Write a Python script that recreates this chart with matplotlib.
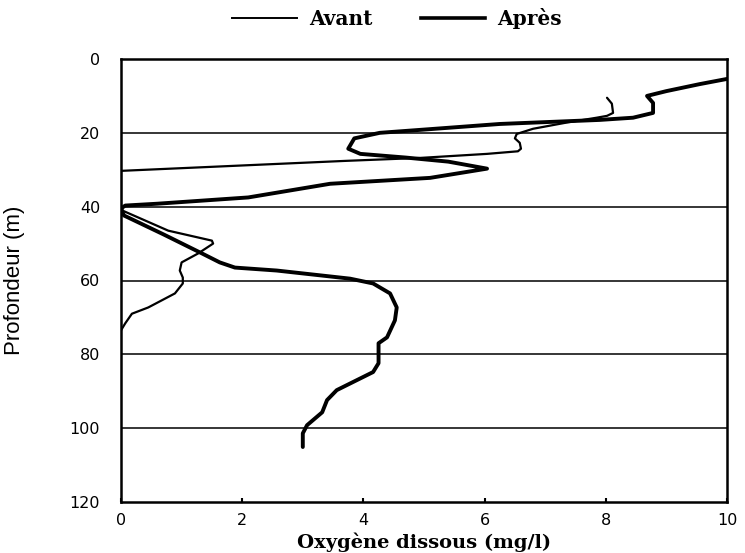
import matplotlib
matplotlib.use("Agg")
import matplotlib.pyplot as plt
from matplotlib.lines import Line2D

# Dissolved-oxygen profiles (mg/l) against depth (m)
avant_oxy = [8.02, 8.10, 8.12, 8.02, 7.85, 7.36, 6.80, 6.53, 6.50, 6.58, 6.60, 6.55,
             6.04, 4.93, 3.70, 0.00, 0.00, 0.03, 0.78, 1.50, 1.52, 1.27, 1.00,
             0.97, 1.02, 1.02, 0.89, 0.45, 0.18, 0.07, 0.00]
avant_depth = [10.5, 12.1, 14.6, 15.4, 15.9, 17.2, 18.9, 20.3, 21.5, 22.7, 24.3, 25.0,
               25.7, 26.8, 27.6, 30.3, 40.0, 41.1, 46.5, 49.2, 50.0, 52.7, 55.1,
               57.3, 59.2, 60.8, 63.5, 67.3, 69.0, 71.6, 73.5]

apres_oxy = [10.0, 9.55, 9.00, 8.68, 8.78, 8.78, 8.45, 7.90, 6.25, 5.10, 4.27, 3.85,
             3.75, 3.95, 4.70, 5.40, 6.04, 5.10, 3.45, 2.10, 0.60, 0.07, 0.00, 0.05,
             0.70, 1.34, 1.63, 1.88, 2.57, 3.78, 4.16, 4.44, 4.55, 4.52, 4.39, 4.25,
             4.25, 4.16, 3.56, 3.40, 3.32, 3.07, 3.00, 3.00]
apres_depth = [5.4, 6.8, 8.7, 10.0, 11.9, 14.6, 15.9, 16.5, 17.6, 19.0, 20.0, 21.5,
               24.3, 25.7, 26.7, 27.8, 29.7, 32.2, 33.8, 37.5, 39.2, 39.7, 40.5, 42.4,
               47.5, 52.7, 55.1, 56.5, 57.3, 59.5, 60.8, 63.5, 67.3, 70.8, 75.4, 77.0,
               82.4, 84.8, 89.7, 92.4, 95.7, 99.2, 101.4, 105.1]

series_labels = ["Avant", "Après"]
x_ticks = [0, 2, 4, 6, 8, 10]
y_ticks = [0, 20, 40, 60, 80, 100, 120]

fig = plt.figure(figsize=(7.45, 5.53), dpi=100)
ax = fig.add_axes([121 / 745, 51 / 553, 606 / 745, 443 / 553])

# horizontal reference lines
for d in y_ticks[1:-1]:
    ax.axhline(d, color="black", lw=1.1, zorder=1)

l1, = ax.plot(avant_oxy, avant_depth, color="black", lw=1.6, zorder=3,
              solid_joinstyle="round", solid_capstyle="round")
l2, = ax.plot(apres_oxy, apres_depth, color="black", lw=2.8, zorder=3,
              solid_joinstyle="round", solid_capstyle="round")

ax.set_xlim(0, 10)
ax.set_ylim(120, 0)
ax.set_xticks(x_ticks)
ax.set_yticks(y_ticks)
ax.set_xticklabels([str(v) for v in x_ticks], family="DejaVu Sans", fontsize=11.5)
ax.set_yticklabels([str(v) for v in y_ticks], family="DejaVu Sans", fontsize=11.5)
ax.tick_params(axis="x", direction="in", length=3, width=1.5, pad=8, color="black")
ax.tick_params(axis="y", length=0, pad=15)

for s in ax.spines.values():
    s.set_linewidth(1.8)
    s.set_color("black")

ax.set_ylabel("Profondeur (m)", family="Liberation Sans", fontsize=16)
ax.yaxis.set_label_coords(-0.158, 0.5)
ax.set_xlabel("Oxygène dissous (mg/l)", family="DejaVu Serif", fontweight="bold",
              fontsize=14)
ax.xaxis.set_label_coords(0.5, -0.068)

handles = [Line2D([], [], color="black", lw=1.4),
           Line2D([], [], color="black", lw=2.6)]
fig.legend(handles, series_labels, loc="center", bbox_to_anchor=(0.533, 0.966),
           ncol=2, frameon=False, handlelength=3.2, handletextpad=0.6,
           columnspacing=2.4,
           prop={"family": "DejaVu Serif", "weight": "bold", "size": 14.5})

fig.savefig("out.png", dpi=100, facecolor="white")
